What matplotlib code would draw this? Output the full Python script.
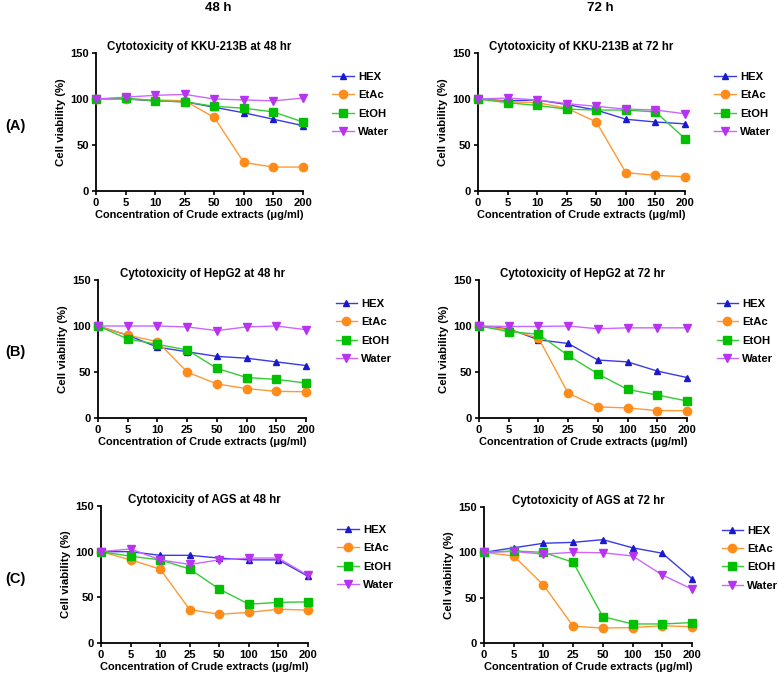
import matplotlib.pyplot as plt

plt.rcParams['font.family'] = ['Liberation Sans', 'DejaVu Sans']
plt.rcParams['font.weight'] = 'bold'

conc = ['0', '5', '10', '25', '50', '100', '150', '200']
extracts = ['HEX', 'EtAc', 'EtOH', 'Water']

# cell viability (%), order: HEX, EtAc, EtOH, Water
kku_48 = [
    [100, 100, 98, 97, 91, 85, 78, 71],
    [100, 100, 99, 98, 80, 31, 26, 26],
    [100, 101, 98, 97, 92, 90, 86, 75],
    [100, 102, 104, 105, 100, 99, 98, 101],
]
kku_72 = [
    [100, 98, 99, 94, 88, 78, 75, 73],
    [100, 97, 96, 90, 75, 20, 17, 15.5],
    [100, 96, 93, 89, 88, 88, 86, 57],
    [100, 101, 99, 95, 92, 89, 88, 84],
]
hep_48 = [
    [100, 90, 77, 72, 67, 65, 61, 57],
    [100, 90, 83, 50, 37, 32, 29, 28.5],
    [100, 86, 80, 74, 54, 44, 42, 38],
    [100, 100, 100, 99, 95, 99, 100, 96],
]
hep_72 = [
    [100, 97, 85, 81, 63, 61, 51, 44],
    [100, 96, 87, 27, 12, 11, 8, 8],
    [100, 94, 91, 68, 48, 31, 25, 18.5],
    [100, 99.5, 99.5, 100, 97, 98, 98, 98],
]
ags_48 = [
    [100, 100, 96, 96, 93, 91, 91, 73],
    [100, 91, 81, 36.5, 31.5, 33.5, 37, 36],
    [100, 95, 91, 81, 59, 42.5, 44.5, 45],
    [100, 103, 91, 86, 91, 93, 93, 74],
]
ags_72 = [
    [100, 105, 110, 111, 114, 105, 99, 71],
    [100, 96, 64, 18.5, 16.5, 17, 19, 18],
    [100, 101.5, 100, 89, 29, 21, 21, 22.5],
    [100, 101, 98, 100, 99.5, 96, 75, 59.5],
]

line_cols = ['#3a3ae6', '#ff9933', '#33cc33', '#cc66ff']
mark_cols = ['#1a1acc', '#ff8c1a', '#00c000', '#b833f0']
markers = ['^', 'o', 's', 'v']
msizes = [5, 6, 5.5, 5.5]

W, H = 778, 682
fig = plt.figure(figsize=(W / 100, H / 100), dpi=100)

panels = [
    (kku_48, 'Cytotoxicity of KKU-213B at 48 hr', (96, 303, 53, 191)),
    (kku_72, 'Cytotoxicity of KKU-213B at 72 hr', (478, 685, 53, 191)),
    (hep_48, 'Cytotoxicity of HepG2 at 48 hr', (98, 306, 280, 418)),
    (hep_72, 'Cytotoxicity of HepG2 at 72 hr', (479, 687, 280, 418)),
    (ags_48, 'Cytotoxicity of AGS at 48 hr', (101, 308, 506, 643)),
    (ags_72, 'Cytotoxicity of AGS at 72 hr', (484, 692, 507, 643)),
]

x = list(range(len(conc)))
for data, title, (x0, x1, yt, yb) in panels:
    ax = fig.add_axes([x0 / W, 1 - yb / H, (x1 - x0) / W, (yb - yt) / H])
    for i, name in enumerate(extracts):
        ax.plot(x, data[i], color=line_cols[i], lw=1, marker=markers[i],
                ms=msizes[i], mfc=mark_cols[i], mec=mark_cols[i],
                label=name, clip_on=False, zorder=3)
    ax.set_xlim(0, 7)
    ax.set_ylim(0, 150)
    ax.set_xticks(x)
    ax.set_xticklabels(conc)
    ax.set_yticks([0, 50, 100, 150])
    for s in ['top', 'right']:
        ax.spines[s].set_visible(False)
    for s in ['left', 'bottom']:
        ax.spines[s].set_linewidth(1.3)
    ax.tick_params(labelsize=8, width=1.2, length=3, pad=2)
    ax.set_title(title, fontsize=8.3, fontweight='bold', pad=2)
    ax.set_ylabel('Cell viability (%)', fontsize=8.2, fontweight='bold', labelpad=3)
    ax.set_xlabel('Concentration of Crude extracts (μg/ml)', fontsize=7.9,
                  fontweight='bold', labelpad=1.5)
    ax.legend(loc='upper left', bbox_to_anchor=(1.115, 0.905), frameon=False,
              fontsize=8.1, handlelength=1.9, handletextpad=0.4,
              labelspacing=0.75, borderpad=0)

fig.text(218 / W, 1 - 8 / H, '48 h', fontsize=9.5, fontweight='bold', ha='center', va='center')
fig.text(600 / W, 1 - 8 / H, '72 h', fontsize=9.5, fontweight='bold', ha='center', va='center')
for lab, yy in [('(A)', 126), ('(B)', 352), ('(C)', 579)]:
    fig.text(15 / W, 1 - yy / H, lab, fontsize=10.5, fontweight='bold', ha='center', va='center')

fig.savefig('out.png', dpi=100)
